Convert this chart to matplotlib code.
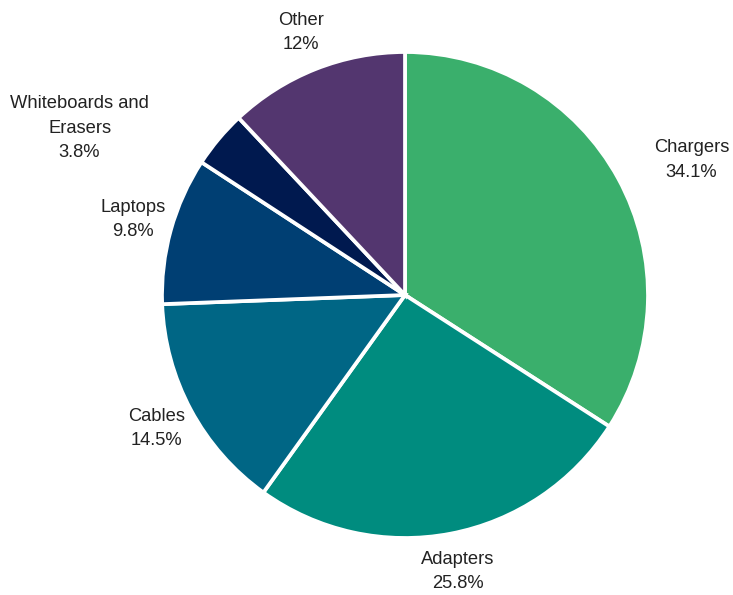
import numpy as np
import matplotlib.pyplot as plt

plt.rcParams["font.family"] = ["Liberation Sans", "DejaVu Sans"]

categories = ["Chargers", "Adapters", "Cables", "Laptops", "Whiteboards and\nErasers", "Other"]
shares = [34.1, 25.8, 14.5, 9.8, 3.8, 12.0]
pct_labels = ["34.1%", "25.8%", "14.5%", "9.8%", "3.8%", "12%"]
colors = ["#3AAF6C", "#008C7F", "#006685", "#003F73", "#00194F", "#53366F"]

# label nudges (in radius units) for the two labels that sit off the radial line
nudges = {0: (0.16, 0.0), 4: (-0.45, -0.058)}

fig = plt.figure(figsize=(7.33, 5.95), dpi=100)
cx, cy, r = 405, 295, 243
ax = fig.add_axes([(cx - r) / 733, (595 - cy - r) / 595, 2 * r / 733, 2 * r / 595])

wedges, _ = ax.pie(shares, colors=colors, startangle=90, counterclock=False,
                   wedgeprops=dict(edgecolor="white", linewidth=2.7))
ax.set_xlim(-1, 1)
ax.set_ylim(-1, 1)
ax.set_aspect("equal")
ax.axis("off")

for i, w in enumerate(wedges):
    ang = np.deg2rad((w.theta1 + w.theta2) / 2)
    x, y = 1.16 * np.cos(ang), 1.16 * np.sin(ang)
    dx, dy = nudges.get(i, (0, 0))
    ax.text(x + dx, y + dy, categories[i] + "\n" + pct_labels[i], ha="center", va="center",
            fontsize=13.2, color="#222222", linespacing=1.55)

fig.savefig("out.png", dpi=100)
